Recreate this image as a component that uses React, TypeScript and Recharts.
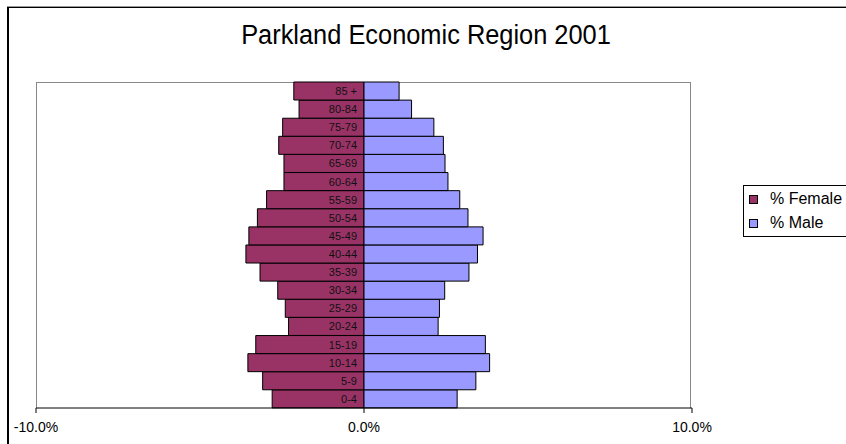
import React from 'react';
import { BarChart, Bar, XAxis, YAxis, LabelList } from 'recharts';

const ageGroups = ['0-4', '5-9', '10-14', '15-19', '20-24', '25-29', '30-34', '35-39', '40-44', '45-49', '50-54', '55-59', '60-64', '65-69', '70-74', '75-79', '80-84', '85 +'];
const femalePct = [2.80, 3.09, 3.54, 3.30, 2.30, 2.40, 2.63, 3.17, 3.60, 3.51, 3.25, 2.97, 2.44, 2.44, 2.60, 2.48, 1.98, 2.14];
const malePct = [2.84, 3.41, 3.83, 3.70, 2.26, 2.30, 2.46, 3.20, 3.46, 3.63, 3.17, 2.92, 2.56, 2.47, 2.42, 2.13, 1.45, 1.07];
const xTicks = [-10, 0, 10];
const seriesNames = ['% Female', '% Male'];
const seriesColors = ['#993366', '#9999FF'];
const title = 'Parkland Economic Region 2001';

const data = ageGroups.map((age, i) => ({ age, female: -femalePct[i], male: malePct[i] }));

const FONT = '"Liberation Sans", Arial, sans-serif';

const AgeLabel = (props: any) => {
  const { x, y, width, height, value } = props;
  const right = Math.max(Number(x), Number(x) + Number(width));
  return (
    <text x={right - 7} y={Number(y) + Number(height) / 2} textAnchor="end" dominantBaseline="central" fontSize={11} fill="#111" fontFamily={FONT}>
      {value}
    </text>
  );
};

export default function App() {
  return (
    <div style={{ position: 'fixed', left: 0, top: 0, width: 846, height: 444, overflow: 'hidden', background: '#fff', fontFamily: FONT }}>
      <div style={{ position: 'absolute', left: 7, top: 6, width: 860, height: 460, borderTop: '1px solid #999', }} />
      <div style={{ position: 'absolute', left: 7, top: 7, width: 860, height: 460, borderTop: '1px solid #000', borderLeft: '2px solid #000' }} />
      <div style={{ position: 'absolute', left: 0, top: 20, width: 852, textAlign: 'center', fontSize: 27, color: '#000', lineHeight: 'normal', transform: 'scaleX(0.94)', transformOrigin: '426px 0' }}>{title}</div>
      <div style={{ position: 'absolute', left: 36, top: 82, width: 655, height: 326, border: '1px solid #888', borderBottom: 'none', boxSizing: 'border-box' }} />
      <div style={{ position: 'absolute', left: 0, top: 0 }}>
        <BarChart
          layout="vertical"
          width={846}
          height={444}
          data={data}
          margin={{ top: 82, right: 154, bottom: 0, left: 36 }}
          barCategoryGap={0}
          barGap={0}
          stackOffset="sign"
        >
          <XAxis
            type="number"
            domain={[-10, 10]}
            ticks={xTicks}
            tickFormatter={(v: number) => `${v.toFixed(1)}%`}
            axisLine={{ stroke: '#000', strokeWidth: 1 }}
            tickLine={{ stroke: '#000' }}
            tickSize={5}
            tickMargin={9}
            height={36}
            tick={{ fill: '#000', fontSize: 14, fontFamily: FONT }}
            allowDataOverflow
          />
          <YAxis type="category" dataKey="age" reversed hide />
          <Bar dataKey="female" name={seriesNames[0]} stackId="a" fill={seriesColors[0]} stroke="#000" strokeWidth={1} isAnimationActive={false}>
            <LabelList dataKey="age" content={<AgeLabel />} />
          </Bar>
          <Bar dataKey="male" name={seriesNames[1]} stackId="a" fill={seriesColors[1]} stroke="#000" strokeWidth={1} isAnimationActive={false} />
        </BarChart>
      </div>
      <div style={{ position: 'absolute', left: 743, top: 185, width: 130, height: 52, border: '1px solid #000', boxSizing: 'border-box', background: '#fff' }}>
        {seriesNames.map((n, i) => (
          <div key={n} style={{ position: 'absolute', left: 5, top: 4 + i * 24, height: 18, display: 'flex', alignItems: 'center', fontSize: 16, color: '#000', whiteSpace: 'nowrap' }}>
            <span style={{ display: 'inline-block', width: 7, height: 7, background: seriesColors[i], border: '1px solid #000', marginRight: 12 }} />
            {n}
          </div>
        ))}
      </div>
    </div>
  );
}
